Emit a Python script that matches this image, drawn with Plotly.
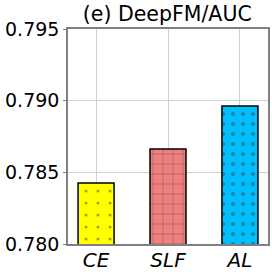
import plotly.graph_objects as go

categories = ["CE", "SLF", "AL"]
values = [0.78425, 0.78662, 0.78962]
colors = ["#ffff00", "#f08080", "#00bfff"]
patterns = [".", "+", "."]
tick_vals = [0.780, 0.785, 0.790, 0.795]
tick_text = ["0.780", "0.785", "0.790", "0.795"]

fig = go.Figure()
fig.add_trace(go.Bar(
    x=categories, y=values, width=0.5,
    marker=dict(color=colors, line=dict(color="black", width=1.5),
                pattern=dict(shape=patterns, fgcolor="black", size=[12, 10, 10],
                             solidity=[0.05, 0.14, 0.14])),
))
fig.update_layout(
    width=272, height=272,
    margin=dict(l=68, r=4, t=29, b=28, autoexpand=False),
    paper_bgcolor="white", plot_bgcolor="white",
    showlegend=False,
    title=dict(text="(e) DeepFM/AUC", x=0.615, xanchor="center", y=0.95, yanchor="middle",
               font=dict(family="DejaVu Sans", size=20.5, color="black")),
    font=dict(family="DejaVu Sans", color="black"),
)
fig.update_xaxes(
    showgrid=True, gridcolor="#d0d0d0", gridwidth=1,
    tickfont=dict(family="DejaVu Sans", size=20, style="italic"),
    showline=True, linecolor="#808080", linewidth=1.5, mirror=True,
    ticks="", range=[-0.39, 2.39], automargin=False, ticklabelstandoff=-3,
)
fig.update_yaxes(
    range=[0.780, 0.795], tickvals=tick_vals, ticktext=tick_text,
    showgrid=True, gridcolor="#d0d0d0", gridwidth=1,
    tickfont=dict(family="DejaVu Sans", size=19),
    showline=True, linecolor="#808080", linewidth=1.5, mirror=True,
    ticks="outside", ticklen=3, tickcolor="#808080", zeroline=False, automargin=False,
)
fig.write_html("out.html", config={"displayModeBar": False})
with open("out.html", "r", encoding="utf-8") as f:
    html = f.read()
html = html.replace("<body>", "<body style=\"margin:0;padding:0;overflow:hidden\">", 1)
with open("out.html", "w", encoding="utf-8") as f:
    f.write(html)
